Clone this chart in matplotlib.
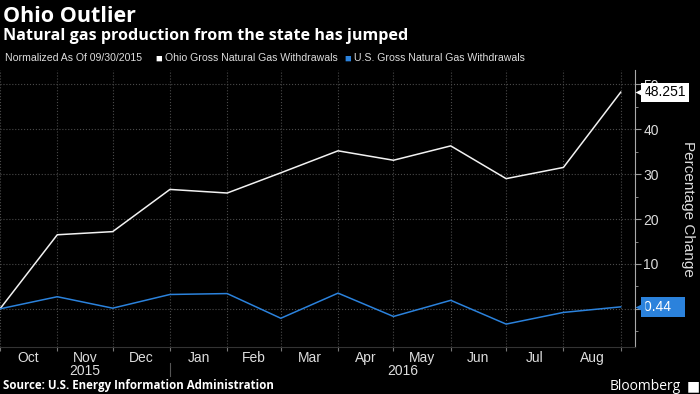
import numpy as np
import pandas as pd
import matplotlib
matplotlib.use("Agg")
import matplotlib.pyplot as plt
import matplotlib.dates as mdates
import matplotlib.transforms as mtransforms

# data (percentage change vs 09/30/2015)
dates = pd.date_range("2015-09-30", periods=12, freq="ME")
ohio = [0, 16.5, 17.2, 26.6, 25.8, 30.3, 35.2, 33.1, 36.3, 29.0, 31.5, 48.251]
us = [0, 2.7, 0.15, 3.2, 3.4, -2.1, 3.5, -1.7, 1.9, -3.4, -0.8, 0.44]
month_labels = ["Oct", "Nov", "Dec", "Jan", "Feb", "Mar", "Apr", "May", "Jun", "Jul", "Aug"]
years = ["2015", "2016"]
y_ticks = [0, 10, 20, 30, 40, 50]
y_ticklabels = ["", "10", "20", "30", "40", "50"]  # 0 sits under the blue tag

BLUE = "#2b82dc"
GRID = "#4a4a4a"
plt.rcParams["font.family"] = ["Liberation Sans", "DejaVu Sans"]

fig = plt.figure(figsize=(7, 3.94), dpi=100, facecolor="black")
ax = fig.add_axes([0.0, 0.1193, 0.907, 0.7030], facecolor="black")

ax.plot(dates, ohio, color="#f2f2f2", lw=1.1, zorder=3)
ax.plot(dates, us, color=BLUE, lw=1.1, zorder=3)

ax.set_xlim(dates[0], dates[-1] + pd.Timedelta(days=7.7))
ax.set_ylim(-8.5, 53.2)

# x axis: ticks at month ends, labels centred in each month
ax.set_xticks(dates)
ax.set_xticklabels([])
mids = [dates[i] + (dates[i + 1] - dates[i]) / 2 for i in range(len(dates) - 1)]
ax.set_xticks(mids, minor=True)
ax.set_xticklabels(month_labels, minor=True)
ax.tick_params(axis="x", which="major", length=3, color="#777777", direction="out")
ax.tick_params(axis="x", which="minor", length=0, pad=3, labelsize=10, labelcolor="#dddddd")

# y axis on the right
ax.yaxis.tick_right()
ax.yaxis.set_label_position("right")
ax.set_yticks(y_ticks)
ax.set_yticklabels(y_ticklabels)
ax.set_yticks(np.arange(-5, 55, 5), minor=True)
ax.tick_params(axis="y", which="major", length=4, color="#999999", labelsize=10,
               labelcolor="#dddddd", pad=2)
ax.tick_params(axis="y", which="minor", length=2.5, color="#999999")
ax.set_ylabel("Percentage Change", color="#dddddd", fontsize=11, rotation=-90, labelpad=26)

ax.grid(True, which="major", color=GRID, linestyle=":", linewidth=0.8)
for s in ["top", "left"]:
    ax.spines[s].set_visible(False)
ax.spines["right"].set_color("#aaaaaa")
ax.spines["bottom"].set_color("#333333")

# year labels and separator
tb = mtransforms.blended_transform_factory(ax.transData, ax.transAxes)
x0, x1 = ax.get_xlim()
dec = mdates.date2num(dates[3])
ax.text((mdates.date2num(dates[0]) + dec) / 2, -0.087, years[0], transform=tb,
        ha="center", va="center", fontsize=10, color="#dddddd")
ax.text((dec + x1) / 2, -0.087, years[1], transform=tb,
        ha="center", va="center", fontsize=10, color="#dddddd")
ax.plot([dec, dec], [-0.058, -0.105], transform=tb, color="#555555", lw=0.8, clip_on=False)

# end-value tags
tr = mtransforms.blended_transform_factory(ax.transAxes, ax.transData)
ax.text(1.014, ohio[-1], f"{ohio[-1]:.3f}", transform=tr, ha="left", va="center",
        fontsize=10, color="black", zorder=6, clip_on=False,
        bbox=dict(boxstyle="square,pad=0.18", fc="white", ec="none"))
ax.plot([1.008], [ohio[-1]], marker="<", ms=6.5, color="white", transform=tr,
        clip_on=False, zorder=6, mec="none")
ax.text(1.014, us[-1], f"{us[-1]:.2f}   ", transform=tr, ha="left", va="center",
        fontsize=10, color="white", zorder=6, clip_on=False,
        bbox=dict(boxstyle="square,pad=0.22", fc=BLUE, ec="none"))
ax.plot([1.008], [us[-1]], marker="<", ms=7, color=BLUE, transform=tr,
        clip_on=False, zorder=6, mec="none")

# titles
fig.text(0.004, 0.985, "Ohio Outlier", fontsize=15.5, fontweight="bold", color="white",
         va="top", family=["Open Sans", "DejaVu Sans"])
fig.text(0.004, 0.928, "Natural gas production from the state has jumped", fontsize=11.6,
         fontweight="bold", color="white", va="top", family=["Open Sans", "DejaVu Sans"])

# legend
ly = 0.852
fig.text(0.007, ly, "Normalized As Of 09/30/2015", fontsize=7.6, color="#dddddd", va="center")
fig.text(0.222, ly, "\u25a0", fontsize=8, color="white", va="center")
fig.text(0.236, ly, "Ohio Gross Natural Gas Withdrawals", fontsize=7.6, color="#dddddd", va="center")
fig.text(0.492, ly, "\u25a0", fontsize=8, color=BLUE, va="center")
fig.text(0.505, ly, "U.S. Gross Natural Gas Withdrawals", fontsize=7.6, color="#dddddd", va="center")

# footer
fy = 1 - 386 / 394
fig.text(0.004, fy, "Source: U.S. Energy Information Administration", fontsize=8.3,
         fontweight="bold", color="white", va="center", family=["Open Sans", "DejaVu Sans"])
fig.text(0.972, fy, "Bloomberg", fontsize=10, color="white", ha="right", va="center",
         family=["Open Sans", "DejaVu Sans"])
fig.text(0.981, fy, "\u25a0", fontsize=10, color="white", ha="left", va="center",
         family=["DejaVu Sans"])

fig.savefig("out.png", dpi=100, facecolor="black")
